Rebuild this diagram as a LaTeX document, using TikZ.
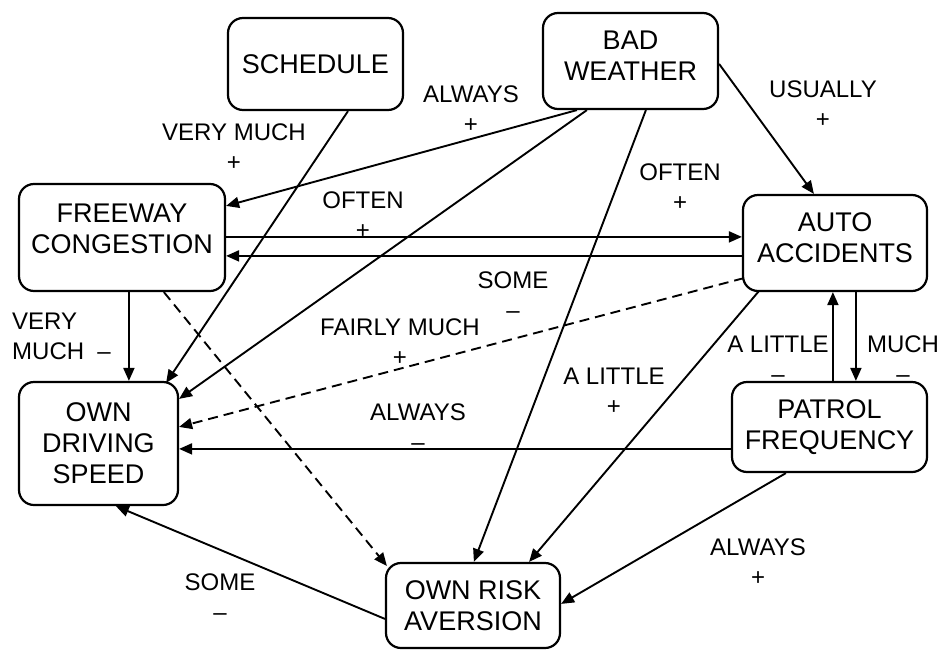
\documentclass[tikz,border=0pt]{standalone}
\usepackage{fontspec}
\setmainfont{Liberation Sans}
\usetikzlibrary{arrows.meta,calc}
\begin{document}
\tikzset{
 box/.style={draw, line width=2.2pt, rounded corners=15pt, align=center, inner sep=0pt, font=\fontsize{27}{31}\selectfont},
 boxtext/.style={align=center, inner sep=0pt, font=\fontsize{27}{31}\selectfont},
 lbl/.style={align=center, inner sep=0pt, font=\fontsize{24}{30}\selectfont},
 arr/.style={line width=1.9pt, -{Triangle[length=13pt,width=11pt]}},
 dsh/.style={arr, dash pattern=on 10pt off 6pt},
}
\begin{tikzpicture}[x=1pt,y=-1pt]
\useasboundingbox (0,0) rectangle (940,651);
% nodes
\node[box, minimum width=175pt, minimum height=92pt] (sched) at (315.5,64) {SCHEDULE};
\node[box, minimum width=175pt, minimum height=96pt] (bad) at (630.5,61) {};
\node[boxtext] (badt) at (630.5,56) {BAD\\WEATHER};
\node[box, minimum width=206pt, minimum height=107pt] (fwy) at (122,237.5) {};
\node[boxtext] (fwyt) at (122,229) {FREEWAY\\CONGESTION};
\node[box, minimum width=184pt, minimum height=96pt] (auto) at (835,243) {};
\node[boxtext] (autot) at (835,238) {AUTO\\ACCIDENTS};
\node[box, minimum width=159pt, minimum height=123pt] (ods) at (98.5,443.5) {OWN\\DRIVING\\SPEED};
\node[box, minimum width=195pt, minimum height=90pt] (pat) at (829.5,427) {PATROL\\FREQUENCY};
\node[box, minimum width=174pt, minimum height=85pt] (ora) at (473,605.5) {OWN RISK\\AVERSION};
% connectors
\draw[arr] ($(sched.south)+(32.5,0)$) -- ($(ods.north east)+(-13,2)$);
\draw[arr] ($(bad.south west)+(35,0)$) -- ($(fwy.north east)+(0,23)$);
\draw[arr] ($(bad.south west)+(45,0)$) -- ($(ods.north east)+(0,18)$);
\draw[arr] ($(bad.south west)+(104,0)$) -- ($(ora.north west)+(89,0)$);
\draw[arr] ($(bad.north east)+(0,52)$) -- ($(auto.north west)+(72,0)$);
\draw[arr] ($(fwy.north east)+(0,54)$) -- ($(auto.north west)+(0,43)$);
\draw[arr] ($(auto.north west)+(0,62)$) -- ($(fwy.north east)+(0,73)$);
\draw[arr] ($(fwy.south west)+(111,0)$) -- ($(ods.north west)+(111,0)$);
\draw[dsh] ($(fwy.south west)+(146,0)$) -- ($(ora.north west)+(2,4)$);
\draw[dsh] ($(auto.south west)+(2,-14)$) -- ($(ods.north east)+(0,46)$);
\draw[arr] ($(auto.south west)+(17,-1)$) -- ($(ora.north east)+(-32,0)$);
\draw[arr] ($(pat.north west)+(102,0)$) -- ($(auto.south west)+(91,0)$);
\draw[arr] ($(auto.south west)+(114,0)$) -- ($(pat.north west)+(125,0)$);
\draw[arr] ($(pat.north west)+(0,68)$) -- ($(ods.north east)+(0,68)$);
\draw[arr] ($(pat.south west)+(55,0)$) -- ($(ora.north east)+(0,42)$);
\draw[arr] ($(ora.north west)+(0,57)$) -- ($(ods.south west)+(98,0)$);
% labels
\node[lbl] (l1) at (234,147) {VERY MUCH\\+};
\node[lbl] (l2) at (471,109) {ALWAYS\\+};
\node[lbl] (l3) at (823,104) {USUALLY\\+};
\node[lbl] (l4) at (680,187) {OFTEN\\+};
\node[lbl] (l5) at (363,215) {OFTEN\\+};
\node[lbl] (l6) at (513,295) {SOME\\–};
\node[lbl, align=left, anchor=west] (l7) at (12,336) {VERY\\MUCH\ \ –};
\node[lbl] (l8) at (400,342) {FAIRLY MUCH\\+};
\node[lbl] (l9) at (418,427) {ALWAYS\\–};
\node[lbl] (l10) at (614,391) {A LITTLE\\+};
\node[lbl] (l11) at (778,359) {A LITTLE\\–};
\node[lbl] (l12) at (903,359) {MUCH\\–};
\node[lbl] (l13) at (758,562) {ALWAYS\\+};
\node[lbl] (l14) at (220,597) {SOME\\–};
\end{tikzpicture}
\end{document}
